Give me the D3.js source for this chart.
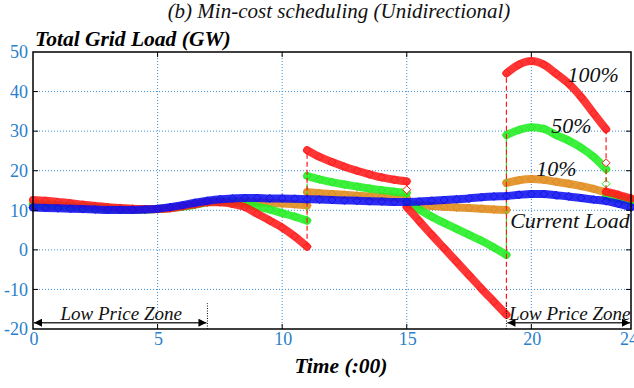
<!DOCTYPE html>
<html><head><meta charset="utf-8">
<script src="https://cdn.jsdelivr.net/npm/d3@7"></script>
<style>body{margin:0;background:#fff}text{font-family:"Liberation Serif","Times New Roman",serif}</style>
</head><body><svg id="c" width="634" height="388"></svg>
<script>
// ---- data (GW), half-hour samples ----
const xTicks = [0, 5, 10, 15, 20, 24];
const yTicks = [-20, -10, 0, 10, 20, 30, 40, 50];
const step = 0.5;

const currentLoad = [10.7,10.6,10.5,10.4,10.3,10.2,10.1,10.1,10.1,10.2,10.4,10.8,11.3,11.9,12.4,12.8,13.0,13.1,13.1,13.0,13.0,12.9,12.8,12.7,12.6,12.5,12.4,12.3,12.2,12.1,12.1,12.2,12.4,12.6,12.8,13.0,13.3,13.5,13.6,13.9,14.1,14.1,13.8,13.5,13.1,12.7,12.3,11.6,10.8];

// segments: [startHour, values]
const ev100 = [
  [0,  [12.6,12.4,12.1,11.8,11.4,11.1,10.8,10.6,10.4,10.3,10.3,10.5,11.0,11.5,12.0,12.0,11.6,10.8,9.1,7.4,5.6,3.4,0.8]],
  [11, [25.2,23.5,22.2,21.0,20.0,19.1,18.3,17.7,17.3]],
  [15, [10.8,7.3,3.8,0.4,-3.0,-6.4,-9.8,-13.1,-16.4]],
  [19, [44.6,46.8,47.7,46.8,44.5,42.0,38.6,34.5,30.5]],
  [23, [14.7,13.9,13.0]]
];
const ev100Bridge = [[15, 15.2], [23, 22.0]];

const ev50 = [
  [0,  [11.6,11.5,11.3,11.1,10.9,10.7,10.5,10.3,10.2,10.2,10.3,10.6,10.9,11.4,12.0,12.2,12.0,11.6,10.9,10.2,9.3,8.4,7.4]],
  [11, [18.7,17.8,17.1,16.5,16.0,15.5,15.1,14.7,14.4]],
  [15, [12.2,10.2,8.4,6.8,5.3,3.8,2.3,0.6,-1.3]],
  [19, [29.0,30.3,31.0,30.6,29.0,27.6,25.8,23.5,20.4]],
  [23, [13.5,12.8,12.2]]
];
const ev50Bridge = [[23, 16.7]];

const ev10 = [
  [0,  [11.2,11.1,11.0,10.8,10.6,10.5,10.3,10.2,10.1,10.2,10.3,10.6,11.0,11.6,12.1,12.3,12.3,12.2,12.0,11.9,11.7,11.5,11.2]],
  [11, [14.6,14.3,14.1,13.9,13.7,13.5,13.4,13.2,13.1]],
  [15, [11.6,11.3,11.1,10.9,10.7,10.6,10.4,10.2,10.1]],
  [19, [16.9,17.6,17.9,17.7,17.2,16.7,16.1,15.4,14.5,13.5,12.5]]
];
const ev10Bridge = [];

const lowPriceZones = [[0, 7], [19, 24]];

// ---- layout ----
const svg = d3.select("#c");
const L = 33, R = 631, T = 52, B = 329;
const x = d3.scaleLinear().domain([0, 24]).range([L, R]);
const y = d3.scaleLinear().domain([-20, 50]).range([B, T]);
const tickBlue = "#2a7fcb";

// grid
const grid = svg.append("g");
grid.selectAll("line.v").data([5,10,15,20]).join("line")
  .attr("x1", d => x(d)).attr("x2", d => x(d)).attr("y1", T).attr("y2", B)
  .attr("stroke", "#3b8fd8").attr("stroke-width", 1).attr("stroke-dasharray", "1,2");
grid.selectAll("line.h").data([-10,0,10,20,30,40]).join("line")
  .attr("y1", d => y(d)).attr("y2", d => y(d)).attr("x1", L).attr("x2", R)
  .attr("stroke", "#3b8fd8").attr("stroke-width", 1).attr("stroke-dasharray", "1,2");

// series
const diamond = "M0,-4L4,0L0,4L-4,0Z";
function toPts(seg) { return seg[1].map((v, i) => [seg[0] + i * step, v]); }
function drawSeries(segs, bridges, color) {
  const g = svg.append("g");
  const line = d3.line().x(d => x(d[0])).y(d => y(d[1])).curve(d3.curveMonotoneX);
  const pts = segs.map(toPts);
  for (let k = 0; k < pts.length - 1; k++) {
    const a = pts[k][pts[k].length - 1], b = pts[k + 1][0];
    const br = bridges.filter(p => p[0] === b[0]);
    const chain = [a, ...br, b];
    g.append("path").attr("d", d3.line().x(d => x(d[0])).y(d => y(d[1]))(chain))
      .attr("fill", "none").attr("stroke", color).attr("stroke-width", 1.2)
      .attr("stroke-dasharray", "5,3");
  }
  pts.forEach(p => {
    g.append("path").attr("d", line(p)).attr("fill", "none")
      .attr("stroke", color).attr("stroke-width", 8).attr("stroke-opacity", 0.88)
      .attr("stroke-linecap", "round");
    g.selectAll(null).data(p).join("path").attr("d", diamond)
      .attr("transform", d => `translate(${x(d[0])},${y(d[1])})`)
      .attr("fill", "none").attr("stroke", color).attr("stroke-width", 1);
  });
  g.selectAll(null).data(bridges).join("path").attr("d", diamond)
    .attr("transform", d => `translate(${x(d[0])},${y(d[1])})`)
    .attr("fill", "#fff").attr("stroke", color).attr("stroke-width", 1);
}
drawSeries(ev10, ev10Bridge, "#e08a1a");
drawSeries(ev50, ev50Bridge, "#22ee22");
drawSeries(ev100, ev100Bridge, "#ff1a1a");
drawSeries([[0, currentLoad]], [], "#1010f0");

// frame & ticks
svg.append("rect").attr("x", L).attr("y", T).attr("width", R - L).attr("height", B - T)
  .attr("fill", "none").attr("stroke", "#000").attr("stroke-width", 1.5);
const tk = svg.append("g").attr("stroke", "#000").attr("stroke-width", 1);
[5,10,15,20].forEach(d => {
  tk.append("line").attr("x1", x(d)).attr("x2", x(d)).attr("y1", B).attr("y2", B - 5);
  tk.append("line").attr("x1", x(d)).attr("x2", x(d)).attr("y1", T).attr("y2", T + 5);
});
[-10,0,10,20,30,40].forEach(d => {
  tk.append("line").attr("y1", y(d)).attr("y2", y(d)).attr("x1", L).attr("x2", L + 5);
  tk.append("line").attr("y1", y(d)).attr("y2", y(d)).attr("x1", R).attr("x2", R - 5);
});

// tick labels
svg.append("g").selectAll("text").data(yTicks).join("text")
  .attr("x", 28).attr("y", d => y(d)).attr("dy", "0.35em").attr("text-anchor", "end")
  .attr("fill", tickBlue).attr("font-size", 18).text(d => d);
svg.append("g").selectAll("text").data(xTicks).join("text")
  .attr("x", d => x(d) + (d === 24 ? -2 : 1)).attr("y", B + 16).attr("text-anchor", "middle")
  .attr("fill", tickBlue).attr("font-size", 18).text(d => d);

// low price zones
const defs = svg.append("defs");
["s","e"].forEach(k => {
  defs.append("marker").attr("id", "ar" + k).attr("viewBox", "0 0 10 10")
    .attr("refX", k === "e" ? 10 : 0).attr("refY", 5).attr("markerWidth", 10).attr("markerHeight", 8)
    .attr("markerUnits", "userSpaceOnUse").attr("orient", "auto")
    .append("path").attr("d", k === "e" ? "M0,0L10,5L0,10Z" : "M10,0L0,5L10,10Z").attr("fill", "#000");
});
lowPriceZones.forEach(z => {
  svg.append("line").attr("x1", x(z[0]) + 1).attr("x2", x(z[1]) - 1)
    .attr("y1", y(-18.4)).attr("y2", y(-18.4)).attr("stroke", "#333").attr("stroke-width", 1.5)
    .attr("marker-start", "url(#ars)").attr("marker-end", "url(#are)");
  svg.append("text").attr("x", x((z[0] + z[1]) / 2) + 1).attr("y", y(-17.6))
    .attr("text-anchor", "middle").attr("font-size", 19).attr("font-style", "italic")
    .attr("fill", "#111").text("Low Price Zone");
});
[7, 19].forEach(d => {
  svg.append("line").attr("x1", x(d)).attr("x2", x(d)).attr("y1", y(-20)).attr("y2", y(-13.5))
    .attr("stroke", "#000").attr("stroke-width", 1).attr("stroke-dasharray", "1,1.5");
});

// series labels
const lab = [["100%", 21.45, 42.3], ["50%", 20.8, 29.5], ["10%", 20.2, 18.6], ["Current Load", 19.15, 5.5]];
svg.append("g").selectAll("text").data(lab).join("text")
  .attr("x", d => x(d[1])).attr("y", d => y(d[2])).attr("font-size", 22).attr("font-style", "italic")
  .attr("fill", "#111").text(d => d[0]);

// titles
svg.append("text").attr("x", 339).attr("y", 18).attr("text-anchor", "middle")
  .attr("font-size", 21).attr("font-style", "italic").attr("fill", "#111")
  .text("(b) Min-cost scheduling (Unidirectional)");
svg.append("text").attr("x", 35).attr("y", 46).attr("font-size", 21.5).attr("font-style", "italic")
  .attr("font-weight", "bold").attr("fill", "#000").text("Total Grid Load (GW)");
svg.append("text").attr("x", 341).attr("y", 373).attr("text-anchor", "middle").attr("font-size", 21.5)
  .attr("font-style", "italic").attr("font-weight", "bold").attr("fill", "#000").text("Time (:00)");
</script></body></html>
